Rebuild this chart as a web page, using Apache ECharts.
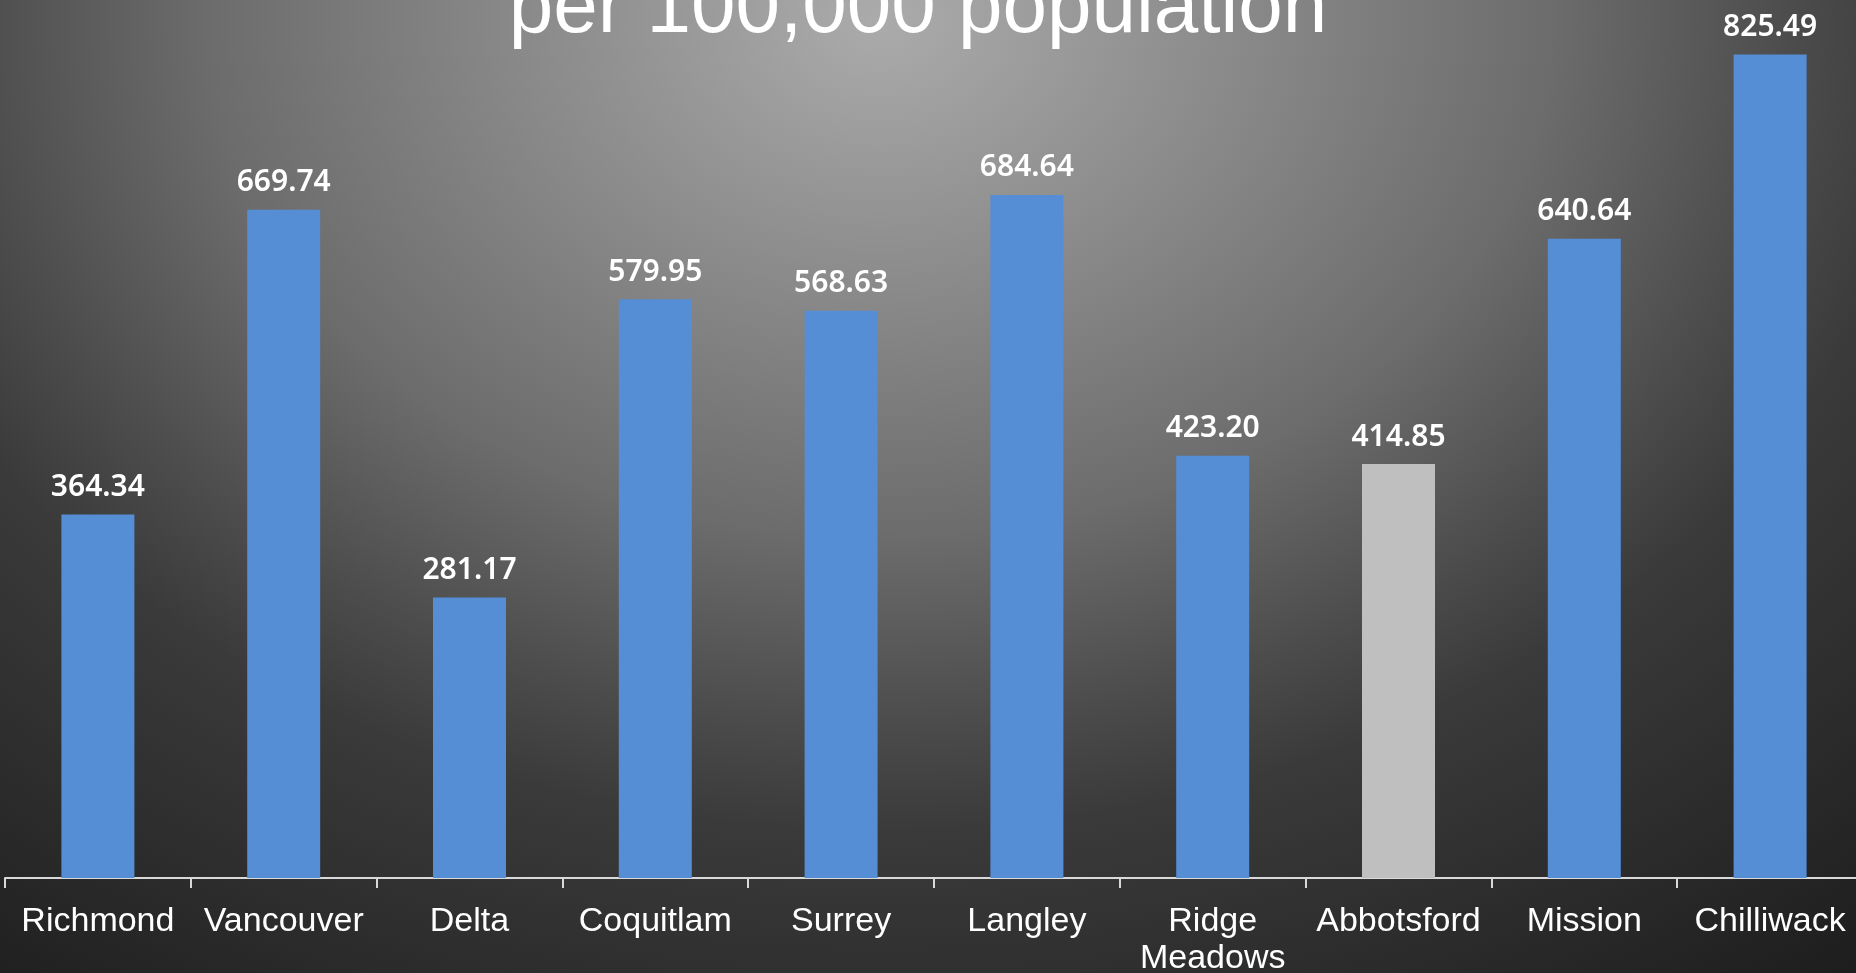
<!DOCTYPE html>
<html>
<head>
<meta charset="utf-8">
<script src="https://cdn.jsdelivr.net/npm/echarts@6/dist/echarts.min.js"></script>
<style>
html,body{margin:0;padding:0;width:1856px;height:973px;overflow:hidden;background:#333;}
#chart{width:1856px;height:973px;}
</style>
</head>
<body>
<div id="chart"></div>
<script>
const titleText = 'per 100,000 population';
const categories = ['Richmond', 'Vancouver', 'Delta', 'Coquitlam', 'Surrey', 'Langley', 'Ridge\nMeadows', 'Abbotsford', 'Mission', 'Chilliwack'];
const values = [364.34, 669.74, 281.17, 579.95, 568.63, 684.64, 423.20, 414.85, 640.64, 825.49];
const highlightCategory = 'Abbotsford';

const BLUE = '#558ed5';
const GREY = '#bfbfbf';
const W = 1856, H = 973, SY = 1.3;

const chart = echarts.init(document.getElementById('chart'), null, {renderer: 'canvas'});
chart.setOption({
  animation: false,
  backgroundColor: '#1c1c1c',
  graphic: [{
    type: 'rect', z: -10, silent: true,
    x: 0, y: 0, scaleY: 1 / SY,
    shape: {x: 0, y: 0, width: W, height: H * SY},
    style: {
      fill: {
        type: 'radial', global: true, x: 880, y: 20 * SY, r: 1600,
        colorStops: [
          {offset: 0, color: '#ababab'},
          {offset: 0.34, color: '#787878'},
          {offset: 0.42, color: '#6c6c6c'},
          {offset: 0.57, color: '#4c4c4c'},
          {offset: 0.66, color: '#3a3a3a'},
          {offset: 1, color: '#1c1c1c'}
        ]
      }
    }
  }],
  title: {
    text: titleText,
    left: 913,
    textAlign: 'center',
    top: -35,
    textStyle: {color: '#ffffff', fontFamily: 'Liberation Sans', fontSize: 80, fontWeight: 'normal'}
  },
  grid: {left: 5, top: 0, width: 1858, bottom: 95, containLabel: false, outerBoundsMode: 'none'},
  xAxis: {
    type: 'category',
    data: categories,
    axisLine: {lineStyle: {color: '#d9d9d9', width: 2}},
    axisTick: {show: true, length: 10, lineStyle: {color: '#d9d9d9', width: 2}},
    axisLabel: {
      color: '#ffffff', fontFamily: 'Liberation Sans', fontSize: 34,
      lineHeight: 37, margin: 25, interval: 0
    }
  },
  yAxis: {
    type: 'value', min: 0, max: 880,
    show: false,
    splitLine: {show: false}
  },
  series: [{
    type: 'bar',
    barWidth: 73,
    data: values.map((v, i) => ({
      value: v,
      itemStyle: {color: categories[i] === highlightCategory ? GREY : BLUE}
    })),
    label: {
      show: true, position: 'top', distance: 12,
      color: '#ffffff', fontFamily: 'Noto Sans', fontSize: 30, fontWeight: 600,
      formatter: p => p.value.toFixed(2)
    }
  }]
});
</script>
</body>
</html>
